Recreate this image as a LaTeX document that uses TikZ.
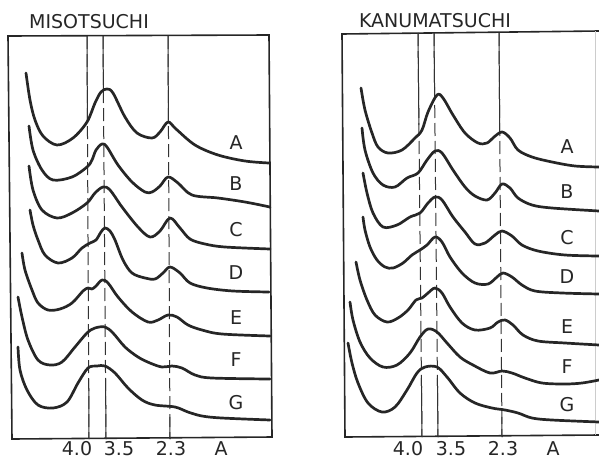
\documentclass[tikz,border=0pt]{standalone}
\usepackage{fontspec}
\setsansfont{DejaVu Sans}
\usepackage{tikz}
\usetikzlibrary{calc}
\tikzset{
    frame/.style={line width=1.6pt, draw=black!85},
    trace/.style={line width=2.7pt, draw=black!85, line join=round, line cap=round},
    refline/.style={line width=1pt, draw=black!80},
    refdash/.style={refline, dash pattern=on 13pt off 5pt},
    lbl/.style={font=\sffamily\fontsize{19}{22}\selectfont, text=black!85, inner sep=0pt}
}

\begin{document}
\begin{tikzpicture}[x=1pt, y=-1pt]
    \useasboundingbox (0,0) rectangle (599,461);

    % Titles
    \node[lbl] (misoTitle) at (89,22) {MISOTSUCHI};
    \node[lbl] (kanuTitle) at (435,21) {KANUMATSUCHI};

    % Frames
    \draw[frame] (12,439) -- (8,36) -- (269,35) -- (272,437) -- cycle;
    \draw[frame] (599,31) -- (342,34) -- (345,437) -- (599,435);
    \draw[line width=0.8pt, black!20] (595,31) -- (595,435);

    % Spacing lines 4.0, 3.5, 2.3
    \foreach \xt/\yt/\xb/\yb/\fa/\fb in {87/36/89/439/0.213/0.851, 103/36/106/439/0.134/0.851, 168/36/170/439/0.213/0.945,
                                         418/33/422/437/0.228/0.854, 434/33/438/437/0.153/0.854, 499/33/502/437/0.248/0.950} {
        \coordinate (t) at (\xt,\yt);
        \coordinate (b) at (\xb,\yb);
        \draw[refdash] (t) -- (b);
        \draw[refline] (t) -- ($(t)!\fa!(b)$);
        \draw[refline] ($(t)!\fb!(b)$) -- (b);
    }

    % MISOTSUCHI traces
    \draw[trace] plot[smooth, tension=0.55] coordinates {(26,73) (30,100) (35,120) (43,136) (57,145) (73,138) (87,122) (95,103) (101,92) (107,89) (113,93) (125,117) (137,133) (152,138) (160,132) (168,122) (176,129) (195,145) (218,155) (245,161) (269,163)};
    \draw[trace] plot[smooth, tension=0.55] coordinates {(29,126) (33,150) (42,170) (53,180) (72,177) (87,167) (92,160) (96,150) (102,144) (107,147) (118,165) (132,182) (145,192) (152,192) (160,186) (168,177) (178,183) (192,195) (218,198) (245,202) (270,207)};
    \draw[trace] plot[smooth, tension=0.55] coordinates {(29,166) (33,190) (42,210) (57,218) (72,213) (87,203) (95,193) (103,187) (110,190) (122,207) (138,227) (150,237) (160,231) (170,218) (180,228) (190,239) (205,244) (225,247) (270,249)};
    \draw[trace] plot[smooth, tension=0.55] coordinates {(30,210) (33,225) (38,240) (45,255) (58,263) (72,258) (82,248) (90,243) (96,240) (101,232) (105,228) (110,231) (115,240) (123,260) (132,273) (145,278) (155,279) (163,273) (170,267) (180,273) (190,283) (207,288) (233,291) (269,292)};
    \draw[trace] plot[smooth, tension=0.55] coordinates {(22,253) (25,270) (32,290) (38,303) (48,310) (60,309) (72,303) (83,291) (88,288) (92,289) (96,286) (102,280) (108,283) (118,297) (132,312) (148,322) (158,320) (168,315) (177,317) (188,325) (202,330) (222,334) (270,336)};
    \draw[trace] plot[smooth, tension=0.55] coordinates {(18,297) (22,317) (28,340) (38,360) (50,365) (62,362) (75,347) (87,333) (95,328) (105,327) (113,333) (125,347) (138,357) (150,363) (162,367) (172,366) (182,368) (195,375) (212,378) (270,379)};
    \draw[trace] plot[smooth, tension=0.55] coordinates {(18,347) (20,370) (27,390) (38,405) (53,408) (67,402) (78,383) (88,368) (97,366) (105,366) (115,373) (128,388) (142,400) (155,405) (175,407) (188,412) (202,416) (222,418) (270,420)};

    % KANUMATSUCHI traces
    \draw[trace] plot[smooth, tension=0.55] coordinates {(361,88) (365,110) (372,133) (378,147) (388,153) (402,150) (415,138) (422,130) (428,112) (437,95) (443,98) (453,115) (465,133) (478,143) (487,143) (494,137) (502,132) (510,138) (518,150) (532,157) (552,162) (575,166) (599,167)};
    \draw[trace] plot[smooth, tension=0.55] coordinates {(362,128) (365,150) (373,173) (383,185) (395,187) (407,178) (418,173) (427,160) (435,151) (442,153) (453,170) (465,187) (475,196) (487,200) (495,193) (502,184) (510,188) (518,198) (532,205) (552,208) (599,211)};
    \draw[trace] plot[smooth, tension=0.55] coordinates {(363,173) (367,193) (373,213) (383,227) (397,225) (410,217) (420,213) (428,203) (435,197) (442,200) (453,217) (465,232) (475,244) (485,243) (495,235) (502,231) (512,236) (522,245) (538,251) (565,255) (599,256)};
    \draw[trace] plot[smooth, tension=0.55] coordinates {(363,217) (365,230) (370,247) (377,260) (385,267) (393,268) (403,263) (412,255) (420,250) (427,245) (435,237) (442,242) (450,257) (462,273) (475,283) (488,284) (497,277) (503,273) (512,277) (522,285) (535,291) (562,293) (599,294)};
    \draw[trace] plot[smooth, tension=0.55] coordinates {(356,262) (360,280) (367,300) (375,315) (387,322) (398,318) (408,310) (416,300) (422,298) (428,293) (435,288) (442,293) (450,307) (462,323) (475,330) (490,328) (498,322) (505,320) (513,325) (523,335) (538,341) (565,343) (599,345)};
    \draw[trace] plot[smooth, tension=0.55] coordinates {(350,302) (353,320) (360,342) (370,358) (383,367) (397,365) (410,353) (420,337) (428,329) (437,332) (447,343) (460,357) (473,365) (490,373) (502,371) (512,373) (525,378) (542,383) (565,384) (582,383) (599,380)};
    \draw[trace] plot[smooth, tension=0.55] coordinates {(348,343) (352,363) (358,383) (368,403) (382,412) (395,407) (407,390) (417,373) (425,367) (437,367) (447,377) (460,393) (475,403) (492,408) (505,410) (518,413) (532,418) (552,420) (599,422)};

    % Sample letters
    \foreach \s/\yl/\yr in {A/143/147, B/184/192, C/230/238, D/273/277, E/318/327, F/360/367, G/403/405} {
        \node[lbl] (miso\s) at (236,\yl) {\s};
        \node[lbl] (kanu\s) at (567,\yr) {\s};
    }

    % Spacing axis
    \node[lbl] (miso40) at (77,449) {4.0};
    \node[lbl] (miso35) at (119,449) {3.5};
    \node[lbl] (miso23) at (171,449) {2.3};
    \node[lbl] (misoUnit) at (221,449) {A};
    \node[lbl] (kanu40) at (408,449) {4.0};
    \node[lbl] (kanu35) at (451,449) {3.5};
    \node[lbl] (kanu23) at (503,449) {2.3};
    \node[lbl] (kanuUnit) at (553,449) {A};
\end{tikzpicture}
\end{document}
